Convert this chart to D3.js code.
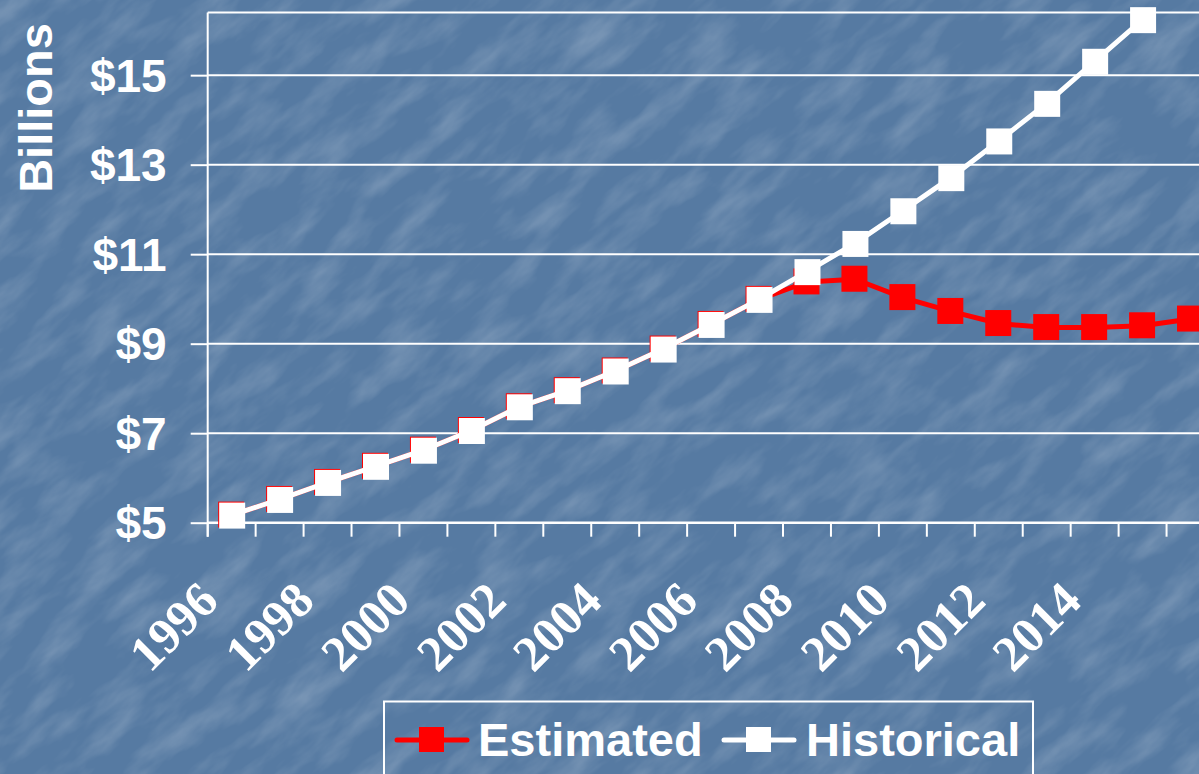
<!DOCTYPE html>
<html>
<head>
<meta charset="utf-8">
<script src="https://cdn.jsdelivr.net/npm/d3@7.9.0/dist/d3.min.js"></script>
<style>
  html, body { margin: 0; padding: 0; background: #587ba3; overflow: hidden; }
  svg { display: block; }
  .sans { font-family: "Liberation Sans", Arial, sans-serif; font-weight: bold; fill: #fff; }
  .serif { font-family: "Liberation Serif", "Times New Roman", serif; font-weight: bold; fill: #fff; }
</style>
</head>
<body>
<svg id="chart" width="1199" height="774"></svg>
<script>
// data
const years = d3.range(1996, 2017).map(String);
const historical = [5.17, 5.52, 5.90, 6.26, 6.62, 7.06, 7.59, 7.95, 8.39, 8.88, 9.43,
                    9.99, 10.61, 11.24, 11.97, 12.71, 13.53, 14.37, 15.31, 16.24, null];
const estimated = [5.17, 5.52, 5.90, 6.26, 6.62, 7.06, 7.59, 7.95, 8.39, 8.88, 9.43,
                   9.99, 10.38, 10.44, 10.03, 9.72, 9.45, 9.36, 9.36, 9.40, 9.55];
const yTicks = [5, 7, 9, 11, 13, 15];
const xLabels = ['1996', '1998', '2000', '2002', '2004', '2006', '2008', '2010', '2012', '2014'];

const svg = d3.select('#chart');

// textured blue background
const defs = svg.append('defs');
const f = defs.append('filter').attr('id', 'tex').attr('x', 0).attr('y', 0).attr('width', 1).attr('height', 1);
f.append('feTurbulence').attr('type', 'fractalNoise').attr('baseFrequency', '0.014 0.04')
  .attr('numOctaves', 4).attr('seed', 11);
f.append('feColorMatrix').attr('type', 'matrix')
  .attr('values', '0 0 0 0 1  0 0 0 0 1  0 0 0 0 1  1.0 0 0 0 -0.42');

svg.append('rect').attr('width', 1199).attr('height', 774).attr('fill', '#567aa2');
svg.append('g').attr('transform', 'rotate(-40 600 387)')
  .append('rect').attr('x', -400).attr('y', -500).attr('width', 2000).attr('height', 1800)
  .attr('filter', 'url(#tex)').attr('opacity', 0.4);

const plotLeft = 207.7, plotTop = 12.5, plotBottom = 522.7;
const x = d3.scaleBand().domain(years).range([plotLeft, 1214.5]);
const y = d3.scaleLinear().domain([5, 16.4]).range([plotBottom, plotTop]);
const cx = d => x(d) + x.bandwidth() / 2;

// gridlines + top border
svg.append('g').selectAll('line').data(yTicks.slice(1)).join('line')
  .attr('x1', plotLeft).attr('x2', 1215).attr('y1', d => y(d)).attr('y2', d => y(d))
  .attr('stroke', '#fff').attr('stroke-width', 2);
svg.append('line').attr('x1', plotLeft).attr('x2', 1215).attr('y1', plotTop).attr('y2', plotTop)
  .attr('stroke', '#fff').attr('stroke-width', 2);

// y axis
const yAxis = svg.append('g').attr('transform', `translate(${plotLeft},0)`)
  .call(d3.axisLeft(y).tickValues(yTicks).tickFormat(d => '$' + d).tickSize(17).tickPadding(24));
yAxis.select('.domain').remove();
yAxis.selectAll('line').attr('stroke', '#fff').attr('stroke-width', 2);
yAxis.selectAll('text').attr('class', 'sans').style('font-size', '46px').attr('dy', '0.35em');
svg.append('line').attr('x1', plotLeft).attr('x2', plotLeft).attr('y1', plotTop).attr('y2', plotBottom + 14)
  .attr('stroke', '#fff').attr('stroke-width', 2);

// x axis
svg.append('line').attr('x1', plotLeft).attr('x2', 1215).attr('y1', plotBottom).attr('y2', plotBottom)
  .attr('stroke', '#fff').attr('stroke-width', 2.5);
svg.append('g').selectAll('line').data(years).join('line')
  .attr('x1', d => x(d)).attr('x2', d => x(d)).attr('y1', plotBottom).attr('y2', plotBottom + 14)
  .attr('stroke', '#fff').attr('stroke-width', 2);
svg.append('g').selectAll('text').data(xLabels).join('text')
  .attr('class', 'serif').style('font-size', '50px').attr('text-anchor', 'end')
  .attr('transform', d => `translate(${cx(d) - 11},603) rotate(-45)`)
  .text(d => d);

// axis title
svg.append('text').attr('class', 'sans').style('font-size', '47px').attr('text-anchor', 'middle')
  .attr('transform', 'translate(52,108) rotate(-90)').text('Billions');

// series
const line = d3.line().defined(d => d.v != null).x(d => cx(d.year)).y(d => y(d.v));
const estData = years.map((yr, i) => ({ year: yr, v: estimated[i] }));
const histData = years.map((yr, i) => ({ year: yr, v: historical[i] })).filter(d => d.v != null);

svg.append('path').datum(estData).attr('d', line).attr('fill', 'none')
  .attr('stroke', '#ff0000').attr('stroke-width', 5);
svg.append('g').selectAll('rect').data(estData).join('rect')
  .attr('x', d => cx(d.year) - 13.5).attr('y', d => y(d.v) - 13.5)
  .attr('width', 26).attr('height', 26).attr('fill', '#ff0000');

svg.append('path').datum(histData).attr('d', line).attr('fill', 'none')
  .attr('stroke', '#ffffff').attr('stroke-width', 5);
svg.append('g').selectAll('rect').data(histData).join('rect')
  .attr('x', d => cx(d.year) - 12.5).attr('y', d => y(d.v) - 12.5)
  .attr('width', 26).attr('height', 26).attr('fill', '#ffffff');

// legend
const lg = svg.append('g');
lg.append('rect').attr('x', 384).attr('y', 701.5).attr('width', 649).attr('height', 100)
  .attr('fill', 'none').attr('stroke', '#fff').attr('stroke-width', 2);
const items = [
  { name: 'Estimated', color: '#ff0000', x0: 397, tx: 478 },
  { name: 'Historical', color: '#ffffff', x0: 724, tx: 806 }
];
items.forEach(it => {
  lg.append('line').attr('x1', it.x0).attr('x2', it.x0 + 70).attr('y1', 740).attr('y2', 740)
    .attr('stroke', it.color).attr('stroke-width', 5).attr('stroke-linecap', 'round');
  lg.append('rect').attr('x', it.x0 + 22).attr('y', 727).attr('width', 25).attr('height', 25)
    .attr('fill', it.color);
  lg.append('text').attr('class', 'sans').style('font-size', '47px')
    .attr('x', it.tx).attr('y', 756).text(it.name);
});
</script>
</body>
</html>
